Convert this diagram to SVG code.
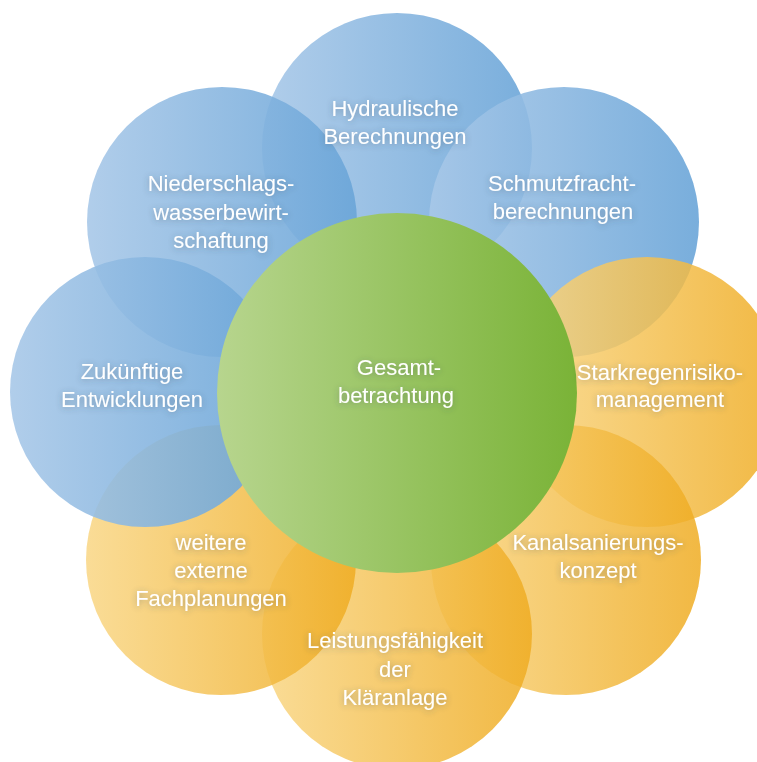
<svg xmlns="http://www.w3.org/2000/svg" width="757" height="762" viewBox="0 0 757 762">
<defs>
<linearGradient id="gBlue" x1="0" y1="0" x2="1" y2="0">
<stop offset="0" stop-color="#a8c8e8"/>
<stop offset="1" stop-color="#6aa5d8"/>
</linearGradient>
<linearGradient id="gOrange" x1="0" y1="0" x2="1" y2="0">
<stop offset="0" stop-color="#f9d684"/>
<stop offset="1" stop-color="#efac22"/>
</linearGradient>
<linearGradient id="gGreen" x1="0" y1="0" x2="1" y2="0">
<stop offset="0" stop-color="#b7d58e"/>
<stop offset="1" stop-color="#7ab337"/>
</linearGradient>
<filter id="shadow" x="-20%" y="-40%" width="140%" height="180%">
<feGaussianBlur in="SourceAlpha" stdDeviation="3"/>
<feOffset dx="0" dy="1" result="b"/>
<feFlood flood-color="#3a4a5a" flood-opacity="0.4"/>
<feComposite in2="b" operator="in" result="s"/>
<feMerge><feMergeNode in="s"/><feMergeNode in="SourceGraphic"/></feMerge>
</filter>
</defs>
<style>
.blue{fill:url(#gBlue);opacity:0.9}
.orange{fill:url(#gOrange);opacity:0.85}
.green{fill:url(#gGreen)}
text{font-family:"Liberation Sans",Arial,sans-serif;font-size:22px;fill:#ffffff;text-anchor:middle;filter:url(#shadow)}
</style>
<rect width="757" height="762" fill="#ffffff"/>
<g id="connectors"></g>
<g id="hydraulische">
<circle class="blue" cx="397" cy="148" r="135"/>
</g>
<g id="niederschlag">
<circle class="blue" cx="222" cy="222" r="135"/>
</g>
<g id="schmutzfracht">
<circle class="blue" cx="564" cy="222" r="135"/>
</g>
<g id="starkregen">
<circle class="orange" cx="647" cy="392" r="135"/>
</g>
<g id="kanal">
<circle class="orange" cx="566" cy="560" r="135"/>
</g>
<g id="leistung">
<circle class="orange" cx="397" cy="634" r="135"/>
</g>
<g id="weitere">
<circle class="orange" cx="221" cy="560" r="135"/>
</g>
<g id="zukunft">
<circle class="blue" cx="145" cy="392" r="135"/>
</g>
<g id="gesamt">
<circle class="green" cx="397" cy="393" r="180"/>
</g>
<g id="labels">
<text x="395" y="116">Hydraulische</text>
<text x="395" y="144">Berechnungen</text>
<text x="221" y="191">Niederschlags-</text>
<text x="221" y="220">wasserbewirt-</text>
<text x="221" y="248">schaftung</text>
<text x="562" y="191">Schmutzfracht-</text>
<text x="563" y="219">berechnungen</text>
<text x="132" y="379">Zukünftige</text>
<text x="132" y="407">Entwicklungen</text>
<text x="399" y="375">Gesamt-</text>
<text x="396" y="403">betrachtung</text>
<text x="660" y="380">Starkregenrisiko-</text>
<text x="660" y="407">management</text>
<text x="598" y="550">Kanalsanierungs-</text>
<text x="598" y="578">konzept</text>
<text x="211" y="550">weitere</text>
<text x="211" y="578">externe</text>
<text x="211" y="606">Fachplanungen</text>
<text x="395" y="648">Leistungsfähigkeit</text>
<text x="395" y="677">der</text>
<text x="395" y="705">Kläranlage</text>
</g>
</svg>
